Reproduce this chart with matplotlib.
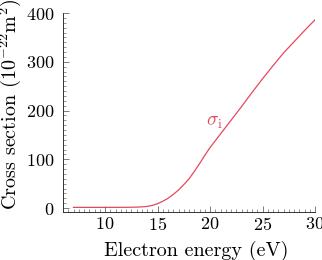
import numpy as np
import matplotlib
matplotlib.use("Agg")
from matplotlib import pyplot as plt
from matplotlib.ticker import MultipleLocator

# values
energy = [7, 10, 12, 13, 13.5, 14, 14.5, 15, 15.5, 16, 16.5, 17, 17.5, 18, 18.5, 19, 19.5, 20,
          21, 22, 23, 24, 25, 26, 27, 28, 29, 30]
sigma = [1.5, 1.5, 1.6, 2, 2.5, 3.5, 5.5, 9, 14, 20, 28, 37, 48, 60, 75, 91, 108, 124,
         152, 180, 208, 237, 265, 292, 318, 341, 364, 386]

label_pos = (20.4, 177)
line_color = "#e5485c"

plt.rcParams["font.family"] = "serif"
plt.rcParams["font.serif"] = ["cmr10"]
plt.rcParams["mathtext.fontset"] = "cm"
plt.rcParams["axes.formatter.use_mathtext"] = True

fig = plt.figure(figsize=(3.22, 2.60), dpi=100)
ax = fig.add_axes([63 / 322, 1 - 212 / 260, (315 - 63) / 322, (212 - 13) / 260])

ax.plot(energy, sigma, color=line_color, lw=0.9)
ax.text(*label_pos, r"$\sigma_\mathrm{i}$", color=line_color, fontsize=14,
        ha="center", va="center")

ax.set_xlim(6, 30)
ax.set_ylim(-8, 400)
ax.xaxis.set_major_locator(MultipleLocator(5))
ax.xaxis.set_minor_locator(MultipleLocator(0.5))
ax.yaxis.set_major_locator(MultipleLocator(100))
ax.yaxis.set_minor_locator(MultipleLocator(10))
ax.tick_params(which="both", direction="in", labelsize=13, color="#666666")
ax.tick_params(which="major", length=4, width=0.6)
ax.tick_params(which="minor", length=2.5, width=0.5)
ax.tick_params(axis="x", pad=3)
ax.tick_params(axis="y", pad=6)

for side in ("top", "right"):
    ax.spines[side].set_visible(False)
for side in ("left", "bottom"):
    ax.spines[side].set_linewidth(0.7)
    ax.spines[side].set_color("#333333")

ax.set_xlabel("Electron energy (eV)", fontsize=14.5)
ax.set_ylabel(r"Cross section ($10^{-22}$m$^2$)", fontsize=14.5)
ax.xaxis.set_label_coords(0.528, -0.146)
ax.yaxis.set_label_coords(-0.16, 0.54)

fig.savefig("out.png", dpi=100)
